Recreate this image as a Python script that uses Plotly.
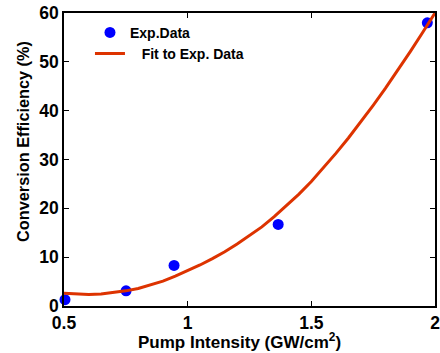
import plotly.graph_objects as go

# Experimental data
exp_x = [0.504, 0.751, 0.945, 1.366, 1.969]
exp_y = [1.3, 3.1, 8.3, 16.7, 58.0]

# Fit curve
fit_x = [0.50, 0.55, 0.60, 0.65, 0.70, 0.75, 0.80, 0.85, 0.90, 0.95,
         1.00, 1.05, 1.10, 1.15, 1.20, 1.25, 1.30, 1.35, 1.40, 1.45,
         1.50, 1.55, 1.60, 1.65, 1.70, 1.75, 1.80, 1.85, 1.90, 1.95, 2.00, 2.01]
fit_y = [2.6, 2.4, 2.35, 2.45, 2.7, 3.1, 3.6, 4.3, 5.1, 6.1,
         7.2, 8.4, 9.7, 11.1, 12.7, 14.4, 16.2, 18.3, 20.5, 22.9,
         25.5, 28.3, 31.3, 34.4, 37.7, 41.1, 44.6, 48.3, 52.1, 56.0, 60.0, 60.8]

x_ticks = [0.5, 1, 1.5, 2]
x_tick_labels = ["0.5", "1", "1.5", "2"]
y_ticks = [0, 10, 20, 30, 40, 50, 60]

x_title = "Pump Intensity (GW/cm<sup>2</sup>)"
y_title = "Conversion Efficiency (%)"

FONT = "Liberation Sans, Arial, sans-serif"

fig = go.Figure()
fig.add_trace(go.Scatter(
    x=exp_x, y=exp_y, mode="markers", name="Exp.Data",
    marker=dict(color="#0000FF", size=11, line=dict(width=0)),
    cliponaxis=False,
))
fig.add_trace(go.Scatter(
    x=fit_x, y=fit_y, mode="lines", name="\u00a0\u00a0\u00a0Fit to Exp. Data",
    line=dict(color="#DD3300", width=3),
))

axis_common = dict(
    showline=True, linecolor="black", linewidth=1.5, mirror="allticks",
    ticks="inside", ticklen=5, tickwidth=1, tickcolor="black",
    showgrid=False, zeroline=False, automargin=False,
    ticklabeloverflow="allow",
    tickfont=dict(family=FONT, size=17.5, color="black", weight="bold"),
)

fig.update_layout(
    width=440, height=353,
    margin=dict(l=64, r=5, t=13, b=47),
    paper_bgcolor="white", plot_bgcolor="white",
    font=dict(family=FONT, color="black"),
    showlegend=True,
    legend=dict(
        x=0.07, y=0.987, xanchor="left", yanchor="top",
        bgcolor="rgba(0,0,0,0)", borderwidth=0,
        font=dict(family=FONT, size=14, color="black", weight="bold"),
        tracegroupgap=0, itemwidth=30,
    ),
    xaxis=dict(range=[0.5, 2], tickvals=x_ticks, ticktext=x_tick_labels, **axis_common),
    yaxis=dict(range=[0, 60], tickvals=y_ticks, **axis_common),
    annotations=[
        dict(text=x_title, xref="paper", yref="paper", x=0.474, y=-0.075,
             xanchor="center", yanchor="top", showarrow=False,
             font=dict(family=FONT, size=17, color="black", weight="bold")),
        dict(text=y_title, xref="paper", yref="paper", x=-0.1105, y=0.56,
             xanchor="center", yanchor="middle", textangle=-90, showarrow=False,
             font=dict(family=FONT, size=16.3, color="black", weight="bold")),
    ],
)

fig.write_html(
    "out.html",
    config={"displayModeBar": False},
    post_script="document.body.style.margin='0';document.body.style.padding='0';",
)
